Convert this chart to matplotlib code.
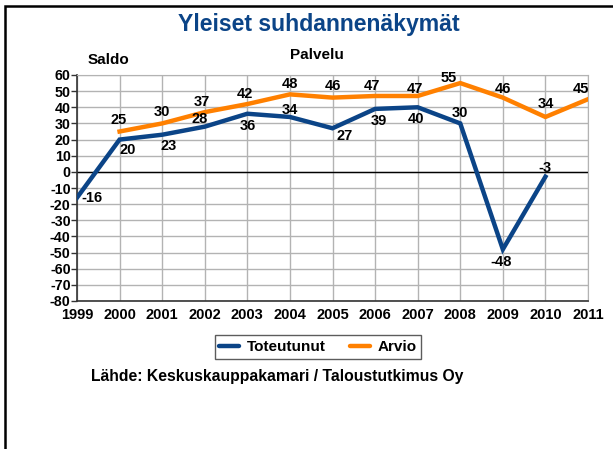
import matplotlib
matplotlib.use("Agg")
import matplotlib.pyplot as plt
from matplotlib.patches import Rectangle

plt.rcParams["font.family"] = ["Liberation Sans", "DejaVu Sans"]
plt.rcParams["font.weight"] = "bold"

years = list(range(1999, 2012))
toteutunut_years = list(range(1999, 2011))
toteutunut = [-16, 20, 23, 28, 36, 34, 27, 39, 40, 30, -48, -3]
arvio_years = list(range(2000, 2012))
arvio = [25, 30, 37, 42, 48, 46, 47, 47, 55, 46, 34, 45]

# label offsets in points, same order as the values
tot_offsets = [(11, 0), (6, -7.5), (5, -8), (-3.5, 5.5), (0, -9), (0, 5),
               (9, -5.5), (3, -9), (-1.5, -8.7), (0, 7.3), (-1, -9.3), (0, 6.6)]
arv_offsets = [(-1, 8.3), (0, 8.2), (-2, 7), (-2, 7), (0, 7.3), (0, 8.3),
               (-2, 7), (-2, 4.7), (-8, 4), (0, 6), (0, 9), (-5, 7)]

BLUE = "#0b4487"
ORANGE = "#ff8000"

fig = plt.figure(figsize=(6.13, 4.49), dpi=100)
# page frame, only top and left edges are visible
fig.patches.append(Rectangle((5.5 / 613, -0.2), 1.5, 1.2 - 5.5 / 449,
                             transform=fig.transFigure, fill=False,
                             edgecolor="black", linewidth=1.8))

ax = fig.add_axes([77 / 613, 1 - 301 / 449, 511 / 613, 226 / 449])
ax.plot(toteutunut_years, toteutunut, color=BLUE, linewidth=3.2,
        solid_joinstyle="miter", label="Toteutunut", zorder=3)
ax.plot(arvio_years, arvio, color=ORANGE, linewidth=3.2,
        solid_joinstyle="miter", label="Arvio", zorder=3)

for x, y, (dx, dy) in zip(toteutunut_years, toteutunut, tot_offsets):
    ax.annotate(str(y), (x, y), xytext=(dx, dy), textcoords="offset points",
                ha="center", va="center", fontsize=10.5, fontweight="bold",
                zorder=4)
for x, y, (dx, dy) in zip(arvio_years, arvio, arv_offsets):
    ax.annotate(str(y), (x, y), xytext=(dx, dy), textcoords="offset points",
                ha="center", va="center", fontsize=10.5, fontweight="bold",
                zorder=4)

ax.set_xlim(1999, 2011)
ax.set_ylim(-80, 60)
ax.set_xticks(years)
ax.set_xticklabels([str(y) for y in years], fontsize=10.5, fontweight="bold")
ax.set_yticks(range(-80, 61, 10))
ax.set_yticklabels([str(v) for v in range(-80, 61, 10)], fontsize=10.3,
                   fontweight="bold")
ax.tick_params(axis="y", length=4, width=1, pad=0.5, direction="out",
               color="#333333")
ax.tick_params(axis="x", length=0, pad=5)
ax.grid(True, color="#b3b3b3", linewidth=1)
ax.axhline(0, color="black", linewidth=1, zorder=2)
for side in ["top", "right"]:
    ax.spines[side].set_color("#b3b3b3")
for side in ["left", "bottom"]:
    ax.spines[side].set_color("#333333")
    ax.spines[side].set_linewidth(1.2)

fig.text(319 / 613, 1 - 31 / 449, "Yleiset suhdannenäkymät", ha="center",
         va="baseline", fontsize=16.6, fontweight="bold", color=BLUE)
fig.text(88 / 613, 1 - 60 / 449, "Saldo", ha="left", va="center",
         fontsize=11, fontweight="bold")
fig.text(317 / 613, 1 - 55 / 449, "Palvelu", ha="center", va="center",
         fontsize=11, fontweight="bold")
fig.text(91 / 613, 1 - 377 / 449,
         "Lähde: Keskuskauppakamari / Taloustutkimus Oy", ha="left",
         va="center", fontsize=11.3, fontweight="bold")

leg = fig.legend(loc="center", bbox_to_anchor=(318 / 613, 1 - 347 / 449),
                 ncol=2, frameon=True, fancybox=False, fontsize=11,
                 handlelength=1.3, handletextpad=0.5, columnspacing=1.6,
                 borderpad=0.3)
leg.get_frame().set_edgecolor("#333333")
leg.get_frame().set_linewidth(1)
for t in leg.get_texts():
    t.set_fontweight("bold")
for h in leg.legend_handles:
    h.set_solid_capstyle("round")

fig.savefig("out.png", dpi=100)
